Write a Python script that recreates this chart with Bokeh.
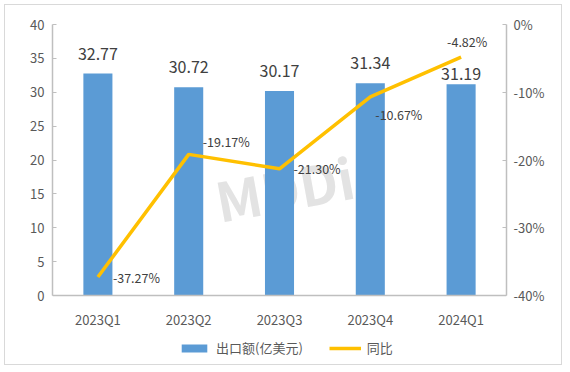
from bokeh.plotting import figure
from bokeh.models import (ColumnDataSource, LinearAxis, Range1d, FactorRange, Legend, LegendItem,
                          PrintfTickFormatter, FixedTicker, Label)
from bokeh.core.properties import value
from bokeh.embed import file_html
from bokeh.resources import INLINE

categories = ["2023Q1", "2023Q2", "2023Q3", "2023Q4", "2024Q1"]
export_values = [32.77, 30.72, 30.17, 31.34, 31.19]
yoy_values = [-37.27, -19.17, -21.30, -10.67, -4.82]
left_ticks = [0, 5, 10, 15, 20, 25, 30, 35, 40]
right_ticks = [-40, -30, -20, -10, 0]

FONT = "Noto Sans CJK SC"
BAR_COLOR = "#5B9BD5"
LINE_COLOR = "#FFC000"

# the frame also holds the axis-label and legend rows below the zero line
PLOT_H = 271          # pixels spanned by 0..40
EXTRA_H = 69          # pixels below the zero line
below = 40 * EXTRA_H / PLOT_H

src = ColumnDataSource(dict(
    cat=categories,
    val=export_values,
    val_txt=["%.2f" % v for v in export_values],
    yoy=yoy_values,
    yoy_txt=["%.2f%%" % v for v in yoy_values],
    bar_dy=[-19, -20, -20, -20, -10],
    line_dx=[15, 14, 14, 5, -14],
    line_dy=[0, -13, 0, 18, -16],
))

p = figure(x_range=FactorRange(factors=categories, range_padding=0),
           y_range=Range1d(-below, 40),
           frame_width=454, frame_height=PLOT_H + EXTRA_H,
           min_border_left=47, min_border_right=55, min_border_top=19, min_border_bottom=0,
           output_backend="svg", toolbar_location=None)
p.margin = (4, 0, 0, 4)
p.extra_y_ranges = {"pct": Range1d(-40 - below, 0)}
p.outline_line_color = None
p.xgrid.grid_line_color = None
p.ygrid.grid_line_color = None
p.styles = {"border": "1.5px solid #D9D9D9"}

wm = Label(x=232, y=108 + EXTRA_H, x_units="screen", y_units="screen", text="MDDi", text_font=FONT,
           text_font_size="54px", text_font_style="bold", text_color="#E3E3E3", text_alpha=1.0,
           text_align="center", text_baseline="middle", angle=0.18, level="underlay")
p.add_layout(wm)

bars = p.vbar(x="cat", top="val", bottom=0, width=0.32, source=src, fill_color=BAR_COLOR, line_color=None)
line = p.line(x="cat", y="yoy", source=src, y_range_name="pct", line_color=LINE_COLOR, line_width=3.5)

p.text(x="cat", y="val", text="val_txt", source=src, y_offset="bar_dy", text_align="center",
       text_baseline="middle", text_font=value(FONT), text_font_size="16px", text_color="#404040")
p.text(x="cat", y="yoy", text="yoy_txt", source=src, y_range_name="pct", x_offset="line_dx",
       y_offset="line_dy", text_align="left", text_baseline="middle", text_font=value(FONT),
       text_font_size="12.5px", text_color="#404040")

AX = "#BFBFBF"
TICK = "#595959"

yax = p.yaxis[0]
yax.ticker = FixedTicker(ticks=left_ticks)
yax.bounds = (0, 40)
yax.axis_line_color = AX
yax.axis_line_width = 1.5
yax.major_tick_line_color = AX
yax.major_tick_in = 4
yax.major_tick_out = 0
yax.minor_tick_line_color = None
yax.major_label_standoff = 8
yax.major_label_text_font = FONT
yax.major_label_text_font_size = "13px"
yax.major_label_text_color = TICK

rax = LinearAxis(y_range_name="pct", ticker=FixedTicker(ticks=right_ticks),
                 formatter=PrintfTickFormatter(format="%d%%"), bounds=(-40, 0))
rax.axis_line_color = AX
rax.axis_line_width = 1.5
rax.major_tick_line_color = AX
rax.major_tick_in = 4
rax.major_tick_out = 0
rax.minor_tick_line_color = None
rax.major_label_standoff = 7
rax.major_label_text_font = FONT
rax.major_label_text_font_size = "13px"
rax.major_label_text_color = TICK
p.add_layout(rax, "right")

xax = p.xaxis[0]
xax.fixed_location = 0
xax.axis_line_color = AX
xax.axis_line_width = 1.5
xax.major_tick_line_color = None
xax.minor_tick_line_color = None
xax.major_label_standoff = 8
xax.major_label_text_font = FONT
xax.major_label_text_font_size = "13px"
xax.major_label_text_color = TICK

legend = Legend(items=[LegendItem(label="出口额(亿美元)", renderers=[bars]),
                       LegendItem(label="同比", renderers=[line])],
                orientation="horizontal", location=(126, 7),
                glyph_width=32, glyph_height=10, label_height=14, label_text_font=FONT,
                label_text_font_size="13px", label_text_color=TICK,
                border_line_color=None, background_fill_alpha=0, spacing=26,
                padding=0, margin=0, label_standoff=6)
p.add_layout(legend, "center")

open("out.html", "w").write(file_html(p, INLINE))
